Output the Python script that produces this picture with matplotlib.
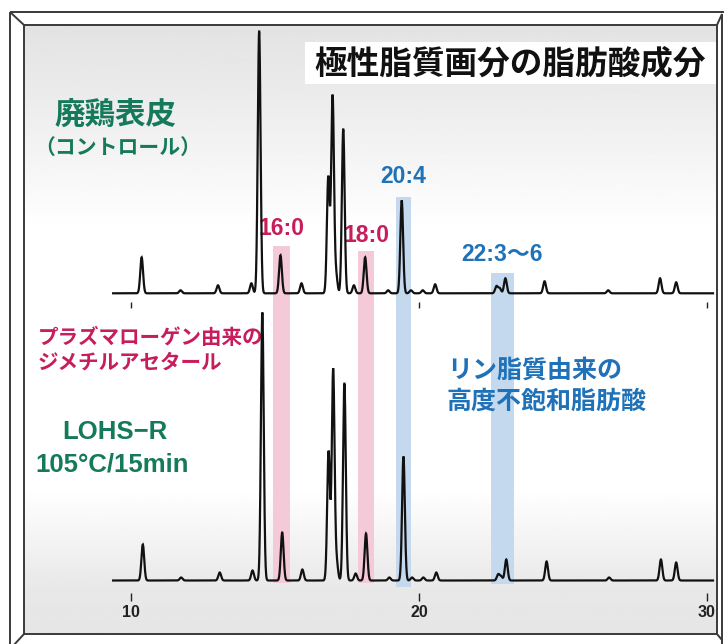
import numpy as np
import matplotlib
matplotlib.use("Agg")
import matplotlib.pyplot as plt
from matplotlib.patches import Rectangle
from matplotlib.transforms import blended_transform_factory

# ---------------- data (retention time [min], peak height) ----------------
top_rt = [10.37, 11.72, 13.02, 14.18, 14.45, 15.19, 15.92, 16.85, 17.00,
          17.12, 17.37, 17.74, 18.13, 18.93, 19.40, 19.72, 20.13, 20.56, 22.69,
          22.80, 23.00, 24.36, 26.57, 28.37, 28.93]
top_h = [36, 3, 8, 10, 262, 38, 10, 116, 197,
         18, 164, 8, 36, 3, 93, 3, 3, 9, 7,
         5, 15, 12, 3, 15, 11]

bot_rt = [10.41, 11.74, 13.08, 14.22, 14.56, 15.25, 15.95, 16.86, 17.02,
          17.14, 17.41, 17.80, 18.16, 18.97, 19.46, 19.76, 20.15, 20.60, 22.75,
          22.85, 23.03, 24.43, 26.60, 28.40, 28.93]
bot_h = [36, 3, 8, 10, 268, 48, 11, 129, 211,
         18, 197, 7, 47, 3, 124, 3, 3, 8, 6,
         4, 21, 19, 3, 21, 18]

run_range = [9.38, 30.21]
x_ticks = [10, 20, 30]
x_ticklabels = ["10", "20", "30"]

band_labels = ["16:0", "18:0", "20:4", "22:3～6"]
band_ranges = [(14.93, 15.52), (17.89, 18.45), (19.20, 19.72), (22.50, 23.29)]
band_kinds = ["pink", "pink", "blue", "blue"]

# ---------------- layout ----------------
W, H = 724, 644
px_per_min = 28.8
x0 = 10 - 131 / px_per_min
x1 = x0 + W / px_per_min

GREEN = "#157a5b"
CRIMSON = "#c81d5c"
BLUE = "#1f72b8"
PINK_BAND = "#f4c9d8"
BLUE_BAND = "#c4d9ed"
JP = ["Noto Sans CJK JP", "DejaVu Sans"]
LAT = ["Liberation Sans", "Noto Sans CJK JP", "DejaVu Sans"]

fig = plt.figure(figsize=(W / 100, H / 100), dpi=100)
fig.patch.set_facecolor("white")

bg = fig.add_axes([0, 0, 1, 1])
bg.set_xlim(0, W)
bg.set_ylim(H, 0)
bg.axis("off")

# background shading (scanned paper look)
yy = np.linspace(25, 634, 300)
shade = np.interp(yy, [25, 90, 230, 490, 590, 634], [0.89, 0.92, 1.0, 1.0, 0.91, 0.90])
bg.imshow(shade[:, None], extent=(24, 717, 634, 25), aspect="auto",
          cmap="gray", vmin=0, vmax=1, zorder=0, interpolation="bilinear")

# bevelled frame
fc = "#3a3a3a"
lw = 1.4
frame_lines = [
    ([10, 10], [12, 646]), ([10, 724], [12, 12]),
    ([24, 24], [25, 634]), ([24, 717], [25, 25]),
    ([717, 717], [25, 634]), ([24, 717], [634, 634]),
    ([722, 722], [14, 644]),
    ([10, 24], [12, 25]), ([722, 717], [14, 25]),
    ([24, 13], [634, 646]), ([717, 722], [634, 640]),
]
for xs, ys in frame_lines:
    bg.plot(xs, ys, color=fc, lw=lw, zorder=5, solid_capstyle="butt")

# title box
bg.add_patch(Rectangle((305, 42), 411, 42, facecolor="white", edgecolor="none", zorder=2))
bg.text(510, 64, "極性脂質画分の脂肪酸成分", fontsize=23.5, fontweight="bold",
        family=JP, color="#111111", ha="center", va="center", zorder=6)

# trace axes
def make_trace_ax(base_px):
    ax = fig.add_axes([0, 1 - base_px / H, 1, 300 / H])
    ax.set_xlim(x0, x1)
    ax.set_ylim(0, 300)
    ax.patch.set_alpha(0)
    for s in ["top", "left", "right"]:
        ax.spines[s].set_visible(False)
    ax.set_yticks([])
    ax.set_xticks(x_ticks)
    return ax

ax_top = make_trace_ax(293.3)
ax_bot = make_trace_ax(580.5)

t = np.arange(run_range[0], run_range[1], 0.004)
sigma = 0.048

def trace(rts, hs):
    y = np.zeros_like(t)
    for r, h in zip(rts, hs):
        y += h * np.exp(-0.5 * ((t - r) / sigma) ** 2)
    return y

for ax, rts, hs in [(ax_top, top_rt, top_h), (ax_bot, bot_rt, bot_h)]:
    ax.plot(t, trace(rts, hs), color="#111111", lw=1.6, clip_on=False, zorder=3,
            solid_joinstyle="miter")

ax_top.spines["bottom"].set_position(("data", -9))
ax_top.spines["bottom"].set_color("none")
ax_top.tick_params(axis="x", direction="out", length=4.5, width=1.0, color="#222222",
                   labelbottom=False)
ax_bot.spines["bottom"].set_position(("data", -12))
ax_bot.spines["bottom"].set_color("none")
ax_bot.tick_params(axis="x", direction="out", length=6, width=1.0, color="#222222", pad=3)
ax_bot.set_xticklabels(x_ticklabels, fontsize=11.5, fontweight="bold", family=LAT,
                       color="#222222")

# highlight bands
btr = blended_transform_factory(ax_top.transData, bg.transData)
band_tops = [246, 251, 197, 273]
band_bottoms = [583, 583, 587, 584]
label_pos = [228.5, 235, 176, 254]
for (a, b), kind, top, bottom, lab, ly in zip(band_ranges, band_kinds, band_tops,
                                             band_bottoms, band_labels, label_pos):
    col = PINK_BAND if kind == "pink" else BLUE_BAND
    bg.add_patch(Rectangle((a, top), b - a, bottom - top, transform=btr,
                           facecolor=col, edgecolor="none", zorder=1))
    tcol = CRIMSON if kind == "pink" else BLUE
    bg.text((a + b) / 2, ly, lab, transform=btr, fontsize=16.5, fontweight="bold",
            family=LAT, color=tcol, ha="center", va="center", zorder=6)

# annotations
bg.text(115, 115, "廃鶏表皮", fontsize=22, fontweight="bold", family=JP,
        color=GREEN, ha="center", va="center", zorder=6)
bg.text(118, 147, "（コントロール）", fontsize=15, fontweight="bold", family=JP,
        color=GREEN, ha="center", va="center", zorder=6)
bg.text(38, 337, "プラズマローゲン由来の", fontsize=14.8, fontweight="bold", family=JP,
        color=CRIMSON, ha="left", va="center", zorder=6)
bg.text(38, 362, "ジメチルアセタール", fontsize=14.8, fontweight="bold", family=JP,
        color=CRIMSON, ha="left", va="center", zorder=6)
bg.text(447, 371, "リン脂質由来の", fontsize=18, fontweight="bold", family=JP,
        color=BLUE, ha="left", va="center", zorder=6)
bg.text(447, 402, "高度不飽和脂肪酸", fontsize=18, fontweight="bold", family=JP,
        color=BLUE, ha="left", va="center", zorder=6)
bg.text(115, 432, "LOHS−R", fontsize=18.5, fontweight="bold", family=LAT, color=GREEN,
        ha="center", va="center", zorder=6)
bg.text(112, 464, "105°C/15min", fontsize=18.5, fontweight="bold", family=LAT, color=GREEN,
        ha="center", va="center", zorder=6)

fig.savefig("out.png", dpi=100)
